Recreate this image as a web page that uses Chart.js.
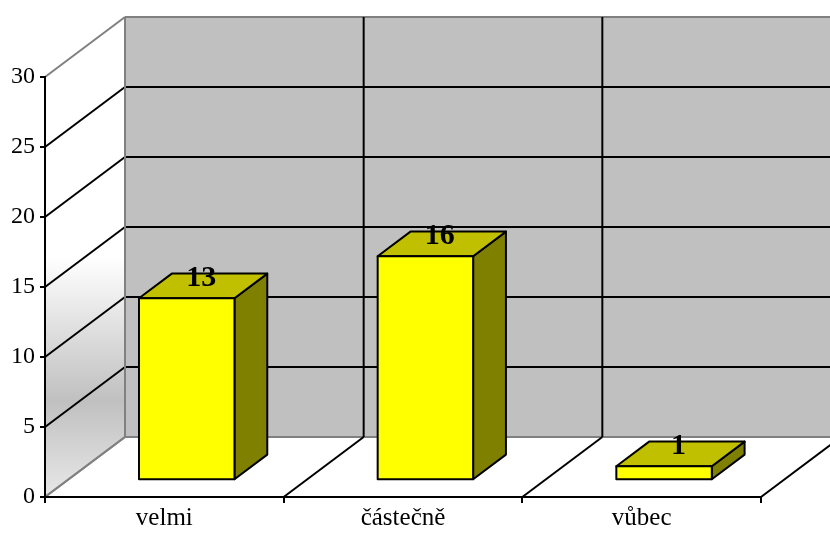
<!DOCTYPE html>
<html>
<head>
<meta charset="utf-8">
<script src="https://cdn.jsdelivr.net/npm/chart.js@4"></script>
<style>
  html, body { margin: 0; padding: 0; background: #fff; }
  #wrap { width: 830px; height: 538px; }
</style>
</head>
<body>
<div id="wrap"><canvas id="chart" width="830" height="538"></canvas></div>
<script>
// data
const categories = ["velmi", "částečně", "vůbec"];
const counts = [13, 16, 1];
const tickValues = [0, 5, 10, 15, 20, 25, 30];

// 3d look
const DX = 80, DY = -60;          // wall depth offset
const BAR_FRONT = 0.28, BAR_BACK = 0.69; // bar position inside the depth
const FONT = "'Liberation Serif', 'Times New Roman', serif";

function line(ctx, x1, y1, x2, y2, color, w){
  ctx.beginPath();
  ctx.moveTo(x1, y1);
  ctx.lineTo(x2, y2);
  ctx.strokeStyle = color;
  ctx.lineWidth = w;
  ctx.stroke();
}

function poly(ctx, pts, fill){
  ctx.beginPath();
  ctx.moveTo(pts[0][0], pts[0][1]);
  for(let i=1;i<pts.length;i++) ctx.lineTo(pts[i][0], pts[i][1]);
  ctx.closePath();
  ctx.fillStyle = fill;
  ctx.fill();
  ctx.strokeStyle = "#000";
  ctx.lineWidth = 2;
  ctx.lineJoin = "round";
  ctx.stroke();
}

const walls = {
  id: "walls",
  beforeDraw(chart){
    const {ctx, chartArea: a, scales: {x, y}} = chart;
    const L = a.left, R = a.right;
    const B = y.getPixelForValue(tickValues[0]);
    const T = y.getPixelForValue(tickValues[tickValues.length-1]);
    ctx.save();

    // back wall
    ctx.fillStyle = "#c0c0c0";
    ctx.fillRect(L+DX, T+DY, R-L, B-T);

    // left wall with gradient
    const g = ctx.createLinearGradient(0, T+DY, 0, B);
    g.addColorStop(0, "#ffffff");
    g.addColorStop(0.5, "#ffffff");
    g.addColorStop(0.8, "#c0c0c0");
    g.addColorStop(1, "#e8e8e8");
    ctx.beginPath();
    ctx.moveTo(L, B); ctx.lineTo(L, T); ctx.lineTo(L+DX, T+DY); ctx.lineTo(L+DX, B+DY);
    ctx.closePath();
    ctx.fillStyle = g;
    ctx.fill();

    // floor
    ctx.beginPath();
    ctx.moveTo(L, B); ctx.lineTo(R, B); ctx.lineTo(R+DX, B+DY); ctx.lineTo(L+DX, B+DY);
    ctx.closePath();
    ctx.fillStyle = "#ffffff";
    ctx.fill();

    // value grid on left and back walls
    tickValues.forEach((v, i) => {
      const py = y.getPixelForValue(v);
      const edge = (i === 0 || i === tickValues.length-1);
      const c = edge ? "#808080" : "#000";
      line(ctx, L, py, L+DX, py+DY, c, 2);
      line(ctx, L+DX, py+DY, R+DX, py+DY, c, 2);
    });

    // category grid on floor and back wall
    const step = (R - L) / categories.length;
    for(let i=0;i<=categories.length;i++){
      const px = i === 0 ? L : x.getPixelForValue(i-1) + step/2;
      const edge = i === 0;
      line(ctx, px, B, px+DX, B+DY, edge ? "#808080" : "#000", 2);
      if(!edge) line(ctx, px+DX, B+DY, px+DX, T+DY, "#000", 2);
    }
    line(ctx, L+DX, B+DY, L+DX, T+DY, "#808080", 2);
    ctx.restore();
  },
  afterDatasetsDraw(chart){
    const {ctx} = chart;
    const meta = chart.getDatasetMeta(0);
    const ox = DX*BAR_FRONT, oy = DY*BAR_FRONT;
    const dx = DX*(BAR_BACK-BAR_FRONT), dy = DY*(BAR_BACK-BAR_FRONT);
    ctx.save();
    meta.data.forEach((bar, i) => {
      const p = bar.getProps(["x", "y", "base", "width"], true);
      const l = p.x - p.width/2 + ox, r = p.x + p.width/2 + ox;
      const t = p.y + oy, b = p.base + oy;
      poly(ctx, [[r,t],[r+dx,t+dy],[r+dx,b+dy],[r,b]], "#808000");
      poly(ctx, [[l,t],[l+dx,t+dy],[r+dx,t+dy],[r,t]], "#c0c000");
      poly(ctx, [[l,t],[r,t],[r,b],[l,b]], "#ffff00");
      ctx.fillStyle = "#000";
      ctx.font = "bold 30px " + FONT;
      ctx.textAlign = "center";
      ctx.textBaseline = "alphabetic";
      ctx.fillText(String(counts[i]), p.x + ox + dx/2 - 2, t + dy/2);
    });
    ctx.restore();
  }
};

new Chart(document.getElementById("chart"), {
  type: "bar",
  data: {
    labels: categories,
    datasets: [{
      data: counts,
      backgroundColor: "rgba(0,0,0,0)",
      borderWidth: 0,
      categoryPercentage: 1,
      barPercentage: 0.4
    }]
  },
  options: {
    responsive: false,
    animation: false,
    layout: { padding: { top: 77, right: 69, left: 0, bottom: 0 } },
    plugins: { legend: { display: false }, tooltip: { enabled: false } },
    scales: {
      x: {
        grid: { drawOnChartArea: false, drawTicks: true, tickLength: 6, color: "#000", lineWidth: 2, offset: true },
        border: { display: true, color: "#000", width: 2 },
        ticks: { color: "#000", font: { family: FONT, size: 25 }, padding: 0, maxRotation: 0 },
        afterFit: s => { s.height = 41; }
      },
      y: {
        min: 0, max: 30,
        afterBuildTicks: s => { s.ticks = tickValues.map(v => ({value: v})); },
        grid: { drawOnChartArea: false, drawTicks: true, tickLength: 5, color: "#000", lineWidth: 2 },
        border: { display: true, color: "#000", width: 2 },
        ticks: { color: "#000", font: { family: FONT, size: 24 }, padding: 5 },
        afterFit: s => { s.width = 45; }
      }
    }
  },
  plugins: [walls]
});
</script>
</body>
</html>
